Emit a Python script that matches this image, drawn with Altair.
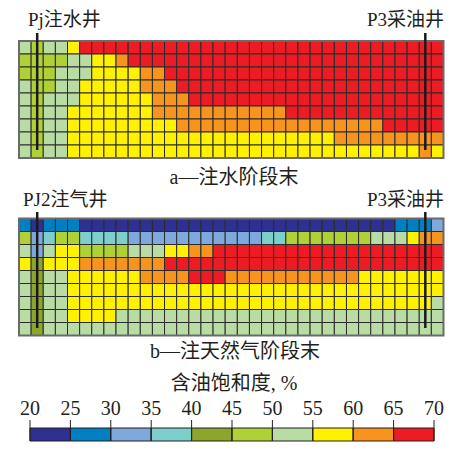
import altair as alt
import pandas as pd

# colour classes of oil saturation (%), one letter per cell
CLASS_SAT = {"D": 22.5, "U": 27.5, "L": 32.5, "T": 37.5, "V": 42.5,
             "G": 47.5, "P": 52.5, "Y": 57.5, "O": 62.5, "R": 67.5}

# a — end of water injection (9 rows x 35 columns)
top_rows = [
    "PGPPY" "RRRRRRRRRR" "RRRRRRRRRR" "RRRRRRRRRR",
    "GGGGPPYYO" "RRRRRRRRRR" "RRRRRRRRRR" "RRRRRR",
    "GGGPPPYYYYOO" "RRRRRRRRRR" "RRRRRRRRRR" "RRR",
    "PGGPPYYYYYOOO" "RRRRRRRRRR" "RRRRRRRRRR" "RR",
    "PGPPPYYYYYYOOO" "RRRRRRRRRR" "RRRRRRRRRR" "R",
    "PGPPYYYYYYY" "OOOOOOOOOO" "O" "RRRRRRRRRR" "RRR",
    "PGPP" "YYYYYYYYY" "OOOOOOOOOO" "OOOOOOO" "RRRRR",
    "PGPP" "YYYYYYYYYY" "YYYYYYYYYY" "YY" "OOOOOOOOO",
    "PGPP" "YYYYYYYYYY" "YYYYYYYYYY" "YYYYYYYYY" "OY",
]

# b — end of natural gas injection
bottom_rows = [
    "UDUUU" "DDDDDDDDDD" "DDDDDDDDDD" "DDDDDD" "UUUL",
    "GLTGG" "TTTT" "LLLLLLLLLL" "L" "TT" "GGGGGGG" "PPP" "Y" "OO",
    "PLPYY" "GGGG" "PPP" "YY" "OO" "RRRRRRRRRR" "RRRRRRRRR",
    "YVYYY" "OOOOOOO" "RRRRRRRRRR" "RRRRRRRRRR" "RRR",
    "PVPP" "YYYYYY" "OOOO" "RRR" "OOOOOOOOOO" "O" "YYYYYYY",
    "PVPP" "YYYYYYYYYY" "YYYYYYYYYY" "YYYYYYYYYY" "Y",
    "PVPP" "YYYYYYYYYY" "YYYYYYYYYY" "YYYYYYYYYY" "P",
    "PVPP" "YYYY" "PPPPPPPPPP" "PPPPPPPPPP" "PPPPPPP",
    "PV" "PPPPPPPPPP" "PPPPPPPPPP" "PPPPPPPPPP" "PPP",
]

N_COLS = 35
N_ROWS = 9
well_cols = [1, 33]          # Pj / PJ2 injector and P3 producer columns

legend_lo = [20, 25, 30, 35, 40, 45, 50, 55, 60, 65]
legend_ticks = [20, 25, 30, 35, 40, 45, 50, 55, 60, 65, 70]
colors = ["#2E3192", "#0080C3", "#7FA9DC", "#7ECFCB", "#8BA62A",
          "#AFD135", "#B9DCA4", "#FFF100", "#F7941D", "#ED1C24"]

FONT = "Liberation Serif, Noto Sans CJK SC"


def grid_df(rows):
    rec = []
    for r, s in enumerate(rows):
        assert len(s) == N_COLS, (r, len(s))
        for c, code in enumerate(s):
            rec.append({"row": r, "col": c, "sat": CLASS_SAT[code]})
    return pd.DataFrame(rec)


color_enc = alt.Color("sat:Q", legend=None,
                      scale=alt.Scale(type="threshold", domain=legend_lo[1:], range=colors))


def panel(rows, y_range, well_y):
    xs = alt.Scale(domain=[0, N_COLS], range=[11, 435.5], nice=False, zero=False)
    ys = alt.Scale(domain=[0, N_ROWS], range=y_range, nice=False, zero=False)
    cells = alt.Chart(grid_df(rows)).transform_calculate(
        col1="datum.col + 1", row1="datum.row + 1"
    ).mark_rect(stroke="#2b2b2b", strokeWidth=1).encode(
        x=alt.X("col:Q", scale=xs, axis=None),
        x2="col1:Q",
        y=alt.Y("row:Q", scale=ys, axis=None),
        y2="row1:Q",
        color=color_enc,
    )
    border = alt.Chart(pd.DataFrame({"c0": [0], "c1": [N_COLS], "r0": [0], "r1": [N_ROWS]})).mark_rect(
        fill=None, stroke="#6a6a6a", strokeWidth=2
    ).encode(
        x=alt.X("c0:Q", scale=xs, axis=None), x2="c1:Q",
        y=alt.Y("r0:Q", scale=ys, axis=None), y2="r1:Q",
    )
    wells = alt.Chart(pd.DataFrame({"wc": well_cols})).transform_calculate(
        wx="datum.wc + 0.5"
    ).mark_rule(color="#1a1a1a", strokeWidth=2.5).encode(
        x=alt.X("wx:Q", scale=xs, axis=None),
        y=alt.value(well_y[0]), y2=alt.value(well_y[1]),
    )
    return [cells, border, wells]


def label(txt, x, y, align, size):
    return alt.Chart(pd.DataFrame({"t": [txt]})).mark_text(
        font=FONT, fontSize=size, align=align, baseline="middle", color="#231f20"
    ).encode(text="t:N", x=alt.value(x), y=alt.value(y))


top_layers = panel(top_rows, [33, 150], (25, 142))
bot_layers = panel(bottom_rows, [210.5, 327.5], (204, 320))

lx = alt.Scale(domain=[20, 70], range=[22, 426], nice=False, zero=False)
leg_df = pd.DataFrame({"sat": legend_lo})
leg_bar = alt.Chart(leg_df).transform_calculate(hi="datum.sat + 5").mark_rect(
    stroke="#231f20", strokeWidth=1
).encode(
    x=alt.X("sat:Q", scale=lx, axis=None), x2="hi:Q",
    y=alt.value(420), y2=alt.value(433),
    color=color_enc,
)
tick_df = pd.DataFrame({"v": legend_ticks, "lab": [str(v) for v in legend_ticks]})
leg_ticks = alt.Chart(tick_df).mark_rule(color="#231f20", strokeWidth=1).encode(
    x=alt.X("v:Q", scale=lx, axis=None), y=alt.value(412), y2=alt.value(433)
)
leg_labels = alt.Chart(tick_df).mark_text(
    font=FONT, fontSize=20, baseline="middle", align="center", color="#231f20"
).encode(x=alt.X("v:Q", scale=lx, axis=None), y=alt.value(401), text="lab:N")

texts = [
    label("Pj注水井", 20, 12, "left", 19),
    label("P3采油井", 436, 12, "right", 19),
    label("a—注水阶段末", 226, 170, "center", 20),
    label("PJ2注气井", 15, 192, "left", 19),
    label("P3采油井", 436, 192, "right", 19),
    label("b—注天然气阶段末", 227, 344, "center", 20),
    label("含油饱和度, %", 226, 376, "center", 20),
]

chart = alt.layer(
    *top_layers, *bot_layers, leg_bar, leg_ticks, leg_labels, *texts
).resolve_scale(
    x="independent", y="independent"
).properties(
    width=437, height=434, padding=0,
    autosize=alt.AutoSizeParams(type="none"),
).configure_view(strokeWidth=0)

chart.save("out.html", embed_options={"renderer": "svg", "actions": False})
